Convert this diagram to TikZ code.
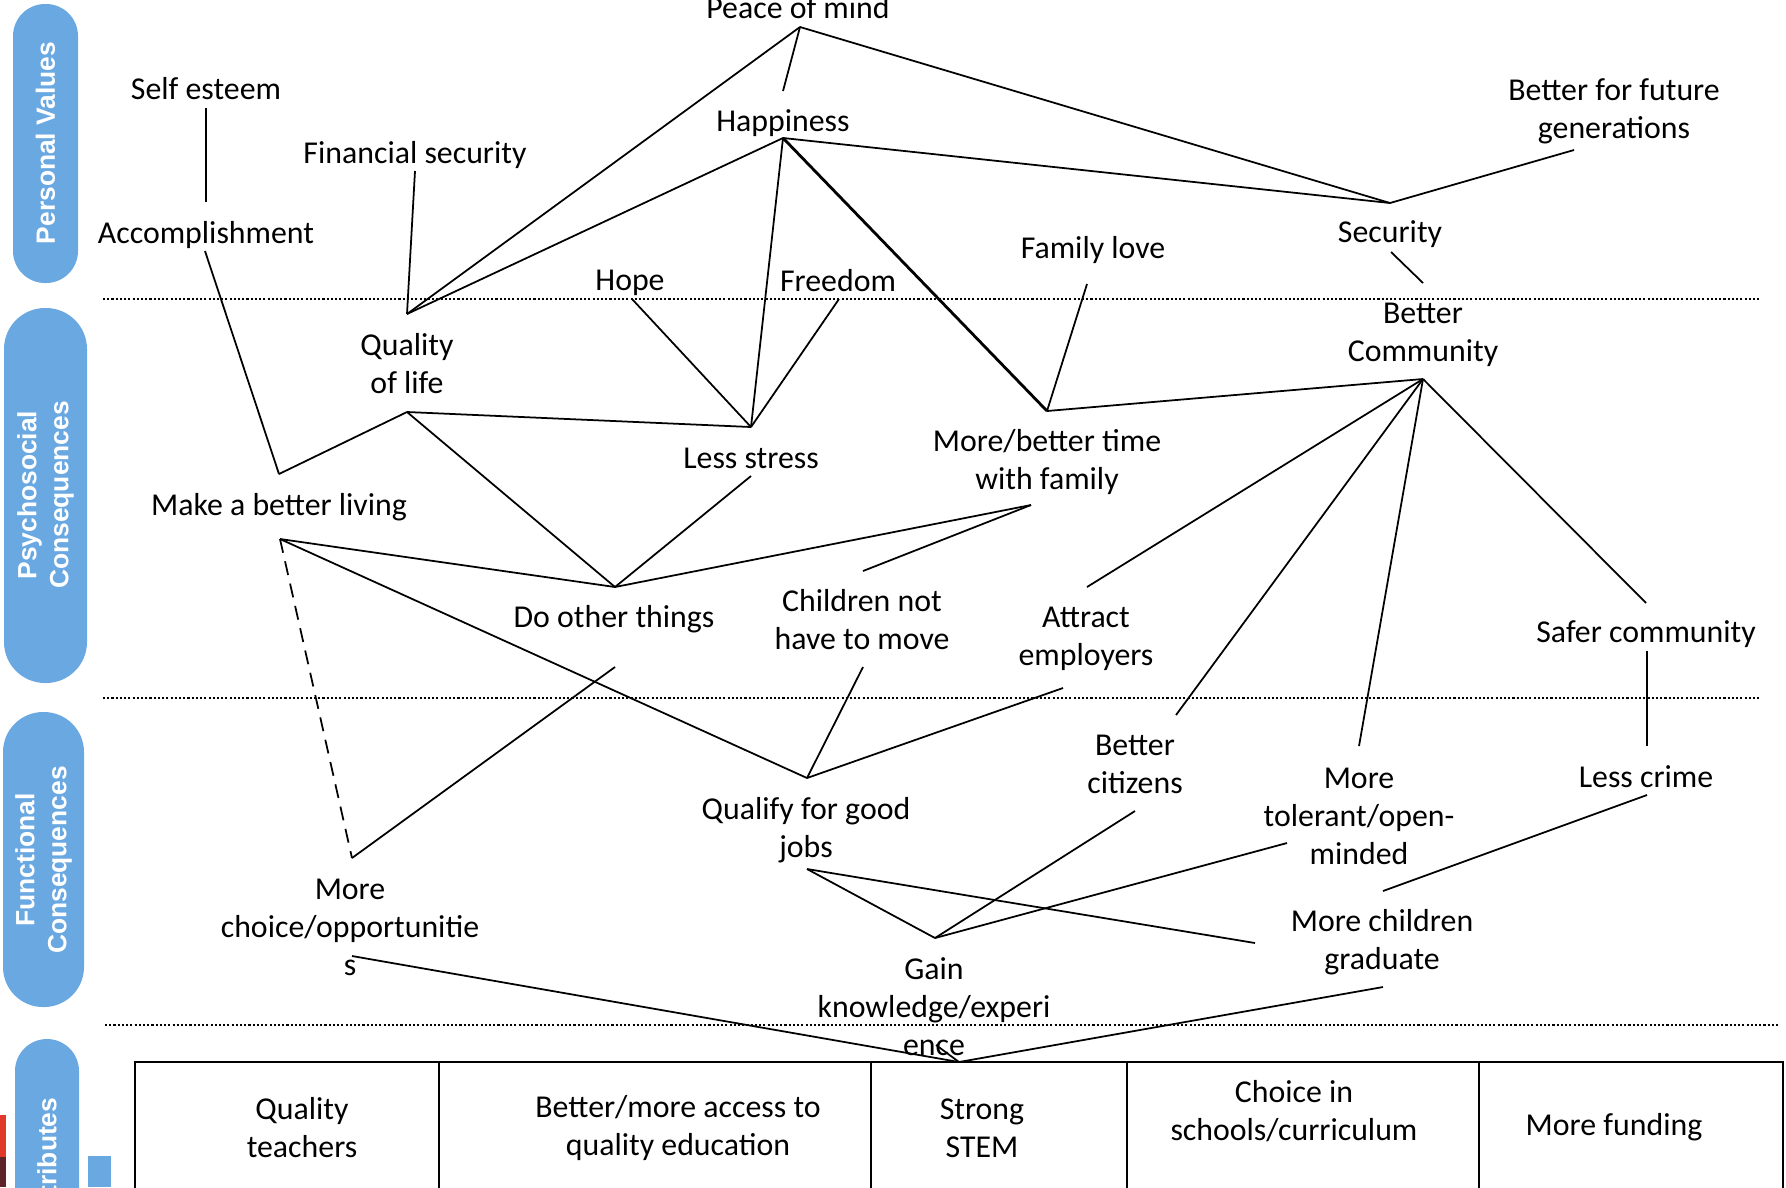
\documentclass[tikz,border=0pt]{standalone}
\usepackage{fontspec}
\setmainfont{Carlito}
\newfontfamily\pillfont{Liberation Sans}
\usepackage{tikz}

\definecolor{pillblue}{RGB}{106,168,226}
\definecolor{barred}{RGB}{226,56,44}
\definecolor{bardark}{RGB}{92,36,40}

\tikzset{
  lbl/.style={align=center, inner sep=0pt, font=\fontsize{9.05pt}{10.8pt}\selectfont},
  link/.style={line width=0.5pt},
  boldlink/.style={line width=0.8pt},
  levelsep/.style={line width=0.6pt, dash pattern=on 0.6pt off 0.6pt},
  pill/.style={fill=pillblue},
  pilltext/.style={rotate=90, align=center, text=white, inner sep=0pt,
    font=\pillfont\bfseries\fontsize{7.5pt}{9.1pt}\selectfont},
  cell/.style={line width=0.6pt}
}

\begin{document}
\begin{tikzpicture}[x=0.01cm, y=-0.01cm]
    \useasboundingbox (0,0) rectangle (1786,1187);
    \clip (0,0) rectangle (1786,1187);

    % level bands
    \fill[pill, rounded corners=0.32cm] (13,4) rectangle (78,283);
    \node[pilltext] (pv) at (45.5,143) {Personal Values};
    \fill[pill, rounded corners=0.41cm] (4,308) rectangle (87,683);
    \node[pilltext] (pc) at (45.5,495) {Psychosocial\\Consequences};
    \fill[pill, rounded corners=0.40cm] (3,712) rectangle (84,1007);
    \node[pilltext] (fc) at (43.5,860) {Functional\\Consequences};
    \fill[pill, rounded corners=0.32cm] (15,1039) rectangle (79,1290);
    \node[pilltext] (ac) at (47,1160) {Attributes};

    % bits of the next slide
    \fill[barred] (0,1115) rectangle (6,1157);
    \fill[bardark] (0,1157) rectangle (6,1187);
    \fill[pill] (88,1156) rectangle (111,1187);

    % separators
    \draw[levelsep] (103,299) -- (1760,299);
    \draw[levelsep] (103,698) -- (1760,698);
    \draw[levelsep] (105,1025) -- (1780,1025);

    % attributes table
    \draw[cell] (135,1200) -- (135,1062) -- (1783,1062) -- (1783,1200);
    \foreach \x in {439,871,1127,1479} {
        \draw[cell] (\x,1062) -- (\x,1200);
    }
    \node[lbl] (teachers) at (302,1128) {Quality\\teachers};
    \node[lbl] (access) at (678,1128) {Better/more access to\\quality education};
    \node[lbl] (stem) at (982,1128) {Strong\\STEM};
    \node[lbl] (schools) at (1294,1111) {Choice in\\schools/curriculum};
    \node[lbl] (funding) at (1614,1127) {More funding};

    % personal values
    \node[lbl] (peace) at (798,8) {Peace of mind};
    \node[lbl] (happy) at (783,123) {Happiness};
    \node[lbl] (selfesteem) at (206,89) {Self esteem};
    \node[lbl] (future) at (1614,111) {Better for future\\generations};
    \node[lbl] (finsec) at (415,155) {Financial security};
    \node[lbl] (accomp) at (206,235) {Accomplishment};
    \node[lbl] (security) at (1390,234) {Security};
    \node[lbl] (famlove) at (1093,250) {Family love};
    \node[lbl] (hope) at (630,283) {Hope};
    \node[lbl] (freedom) at (838,281) {Freedom};

    % psychosocial consequences
    \node[lbl] (community) at (1423,335) {Better\\Community};
    \node[lbl] (qol) at (407,364) {Quality\\of life};
    \node[lbl] (lessstress) at (751,458) {Less stress};
    \node[lbl] (moretime) at (1047,462) {More/better time\\with family};
    \node[lbl] (mbl) at (279,507) {Make a better living};
    \node[lbl] (dothings) at (614,619) {Do other things};
    \node[lbl] (children) at (862,620) {Children not\\have to move};
    \node[lbl] (attract) at (1086,639) {Attract\\employers};
    \node[lbl] (safer) at (1646,634) {Safer community};

    % functional consequences
    \node[lbl] (citizens) at (1135,764) {Better\\citizens};
    \node[lbl] (tolerant) at (1359,816) {More\\tolerant/open-\\minded};
    \node[lbl] (lesscrime) at (1646,777) {Less crime};
    \node[lbl] (qualify) at (806,830) {Qualify for good\\jobs};
    \node[lbl] (choice) at (350,927) {More\\choice/opportunitie\\s};
    \node[lbl] (graduate) at (1382,942) {More children\\graduate};
    \node[lbl] (gain) at (934,1007) {Gain\\knowledge/experi\\ence};

    % link ends
    \coordinate (peace-b) at (800,27);
    \coordinate (happy-t) at (783,91);
    \coordinate (happy-b) at (783,138);
    \coordinate (selfesteem-b) at (206,108);
    \coordinate (accomp-t) at (206,202);
    \coordinate (accomp-b) at (205,251);
    \coordinate (finsec-b) at (415,171);
    \coordinate (future-b) at (1574,150);
    \coordinate (security-t) at (1390,203);
    \coordinate (security-b) at (1391,252);
    \coordinate (famlove-b) at (1087,284);
    \coordinate (hope-b) at (632,299);
    \coordinate (freedom-b) at (839,299);
    \coordinate (community-t) at (1423,283);
    \coordinate (community-b) at (1423,379);
    \coordinate (qol-t) at (407,314);
    \coordinate (qol-b) at (407,412);
    \coordinate (lessstress-t) at (751,427);
    \coordinate (lessstress-b) at (751,476);
    \coordinate (moretime-t) at (1047,411);
    \coordinate (moretime-b) at (1031,505);
    \coordinate (mbl-t) at (279,474);
    \coordinate (mbl-b) at (280,539);
    \coordinate (dothings-t) at (615,587);
    \coordinate (dothings-b) at (615,667);
    \coordinate (children-t) at (863,571);
    \coordinate (children-b) at (863,667);
    \coordinate (attract-t) at (1087,587);
    \coordinate (attract-b) at (1063,688);
    \coordinate (safer-t) at (1646,603);
    \coordinate (safer-b) at (1647,651);
    \coordinate (citizens-t) at (1176,715);
    \coordinate (citizens-b) at (1135,811);
    \coordinate (tolerant-t) at (1359,746);
    \coordinate (tolerant-b) at (1287,843);
    \coordinate (lesscrime-t) at (1647,746);
    \coordinate (lesscrime-b) at (1647,795);
    \coordinate (qualify-t) at (807,778);
    \coordinate (qualify-b) at (807,869);
    \coordinate (choice-t) at (352,858);
    \coordinate (choice-b) at (352,956);
    \coordinate (graduate-t) at (1383,891);
    \coordinate (graduate-l) at (1255,943);
    \coordinate (graduate-b) at (1383,987);
    \coordinate (gain-t) at (935,938);
    \coordinate (gain-b) at (936,1045);
    \coordinate (stem-t) at (959,1062);

    % ladder links
    \draw[link] (peace-b) -- (happy-t);
    \draw[link] (peace-b) -- (qol-t);
    \draw[link] (peace-b) -- (security-t);
    \draw[link] (happy-b) -- (qol-t);
    \draw[link] (happy-b) -- (security-t);
    \draw[link] (happy-b) -- (lessstress-t);
    \draw[boldlink] (happy-b) -- (moretime-t);
    \draw[link] (selfesteem-b) -- (accomp-t);
    \draw[link] (finsec-b) -- (qol-t);
    \draw[link] (future-b) -- (security-t);
    \draw[link] (security-b) -- (community-t);
    \draw[link] (accomp-b) -- (mbl-t);
    \draw[link] (qol-b) -- (mbl-t);
    \draw[link] (qol-b) -- (lessstress-t);
    \draw[link] (qol-b) -- (dothings-t);
    \draw[link] (hope-b) -- (lessstress-t);
    \draw[link] (freedom-b) -- (lessstress-t);
    \draw[link] (famlove-b) -- (moretime-t);
    \draw[link] (community-b) -- (moretime-t);
    \draw[link] (community-b) -- (attract-t);
    \draw[link] (community-b) -- (citizens-t);
    \draw[link] (community-b) -- (tolerant-t);
    \draw[link] (community-b) -- (safer-t);
    \draw[boldlink] (safer-b) -- (lesscrime-t);
    \draw[link] (lessstress-b) -- (dothings-t);
    \draw[link] (moretime-b) -- (dothings-t);
    \draw[link] (moretime-b) -- (children-t);
    \draw[link] (mbl-b) -- (dothings-t);
    \draw[link] (mbl-b) -- (qualify-t);
    \draw[link, dash pattern=on 4pt off 2.5pt] (mbl-b) -- (choice-t);
    \draw[link] (choice-t) -- (dothings-b);
    \draw[link] (children-b) -- (qualify-t);
    \draw[link] (attract-b) -- (qualify-t);
    \draw[link] (qualify-b) -- (gain-t);
    \draw[link] (qualify-b) -- (graduate-l);
    \draw[link] (gain-t) -- (citizens-b);
    \draw[link] (gain-t) -- (tolerant-b);
    \draw[link] (lesscrime-b) -- (graduate-t);
    \draw[link] (choice-b) -- (stem-t);
    \draw[link] (graduate-b) -- (stem-t);
    \draw[link] (gain-b) -- (stem-t);
\end{tikzpicture}
\end{document}
